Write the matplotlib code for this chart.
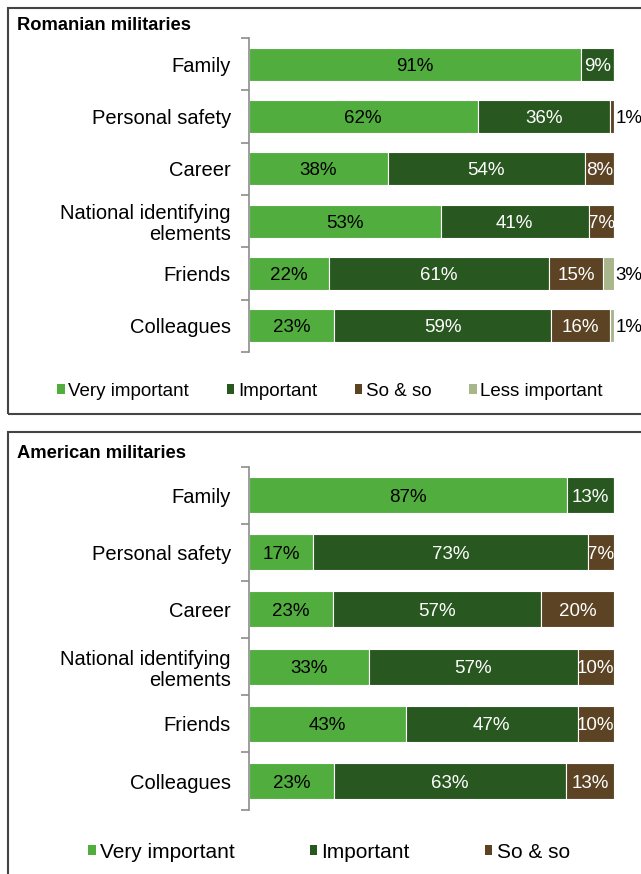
import matplotlib
matplotlib.use("Agg")
import matplotlib.pyplot as plt
from matplotlib.patches import Rectangle, Patch

plt.rcParams['font.family'] = ['Liberation Sans', 'DejaVu Sans']

categories = ["Family", "Personal safety", "Career", "National identifying\nelements", "Friends", "Colleagues"]
series_names = ["Very important", "Important", "So & so", "Less important"]
colors = ["#52AD3F", "#285820", "#5B4324", "#A9B58A"]
label_colors = ["black", "white", "white", "black"]

ro_very = [91, 62, 38, 53, 22, 23]
ro_imp = [9, 36, 54, 41, 61, 59]
ro_so = [0, 1, 8, 7, 15, 16]
ro_less = [0, 0, 0, 0, 3, 1]

us_very = [87, 17, 23, 33, 43, 23]
us_imp = [13, 73, 57, 57, 47, 63]
us_so = [0, 7, 20, 10, 10, 13]

W, H = 641, 874
fig = plt.figure(figsize=(W / 100, H / 100), dpi=100)

def fx(px):
    return px / W

def fy(py):
    return 1 - py / H

# Panel frames
fig.patches.append(Rectangle((fx(8), fy(414)), fx(700), fy(8) - fy(414), transform=fig.transFigure,
                             fill=False, edgecolor="#444444", linewidth=1.5))
fig.patches.append(Rectangle((fx(8), fy(900)), fx(700), fy(432) - fy(900), transform=fig.transFigure,
                             fill=False, edgecolor="#444444", linewidth=1.5))

fig.text(fx(17), fy(25), "Romanian militaries", fontsize=13.2, fontweight="bold", va="center", ha="left")
fig.text(fx(17), fy(453), "American militaries", fontsize=13.2, fontweight="bold", va="center", ha="left")


def draw_panel(ax, series_list):
    n = len(categories)
    ys = list(range(n))
    totals = [sum(vals[i] for vals in series_list) for i in range(n)]
    left = [0.0] * n
    for si, vals in enumerate(series_list):
        widths = [v * 100.0 / t for v, t in zip(vals, totals)]
        ax.barh(ys, widths, left=left, height=0.63, color=colors[si], edgecolor="white", linewidth=0.8)
        for i, v in enumerate(vals):
            if v <= 0:
                continue
            if v >= 5:
                ax.text(left[i] + widths[i] / 2, ys[i], f"{v}%", ha="center", va="center_baseline",
                        fontsize=13.5, color=label_colors[si])
            else:
                ax.text(left[i] + widths[i] + 0.4, ys[i], f"{v}%", ha="left", va="center_baseline",
                        fontsize=13.5, color="black", clip_on=False)
        left = [l + w for l, w in zip(left, widths)]
    ax.set_xlim(0, 100)
    ax.set_ylim(n - 0.5, -0.5)
    ax.set_yticks([y - 0.5 for y in range(n + 1)])
    ax.set_yticklabels([])
    ax.set_yticks(ys, minor=True)
    ax.set_yticklabels(categories, minor=True, fontsize=14.5, linespacing=1.15)
    ax.tick_params(axis="y", which="minor", length=0, pad=13)
    ax.tick_params(axis="y", which="major", length=6, width=1.2, color="#8c8c8c", direction="out")
    ax.set_xticks([])
    for s in ["top", "right", "bottom"]:
        ax.spines[s].set_visible(False)
    ax.spines["left"].set_color("#8c8c8c")
    ax.spines["left"].set_linewidth(1.2)
    ax.patch.set_alpha(0)


ax1 = fig.add_axes([fx(249), fy(352), fx(614) - fx(249), fy(38) - fy(352)])
draw_panel(ax1, [ro_very, ro_imp, ro_so, ro_less])

ax2 = fig.add_axes([fx(249), fy(809.6), fx(614) - fx(249), fy(466.5) - fy(809.6)])
draw_panel(ax2, [us_very, us_imp, us_so])

h1 = [Patch(facecolor=colors[i], edgecolor="none") for i in range(4)]
fig.legend(h1, series_names, loc="center", bbox_to_anchor=(fx(330), fy(391)), ncol=4, frameon=False,
           fontsize=13.5, handlelength=0.4, handleheight=0.4, handletextpad=0.2, columnspacing=2.0)

h2 = [Patch(facecolor=colors[i], edgecolor="none") for i in range(3)]
fig.legend(h2, series_names[:3], loc="center", bbox_to_anchor=(fx(329), fy(852)), ncol=3, frameon=False,
           fontsize=15, handlelength=0.36, handleheight=0.36, handletextpad=0.2, columnspacing=3.6)

fig.savefig("out.png", dpi=100)
